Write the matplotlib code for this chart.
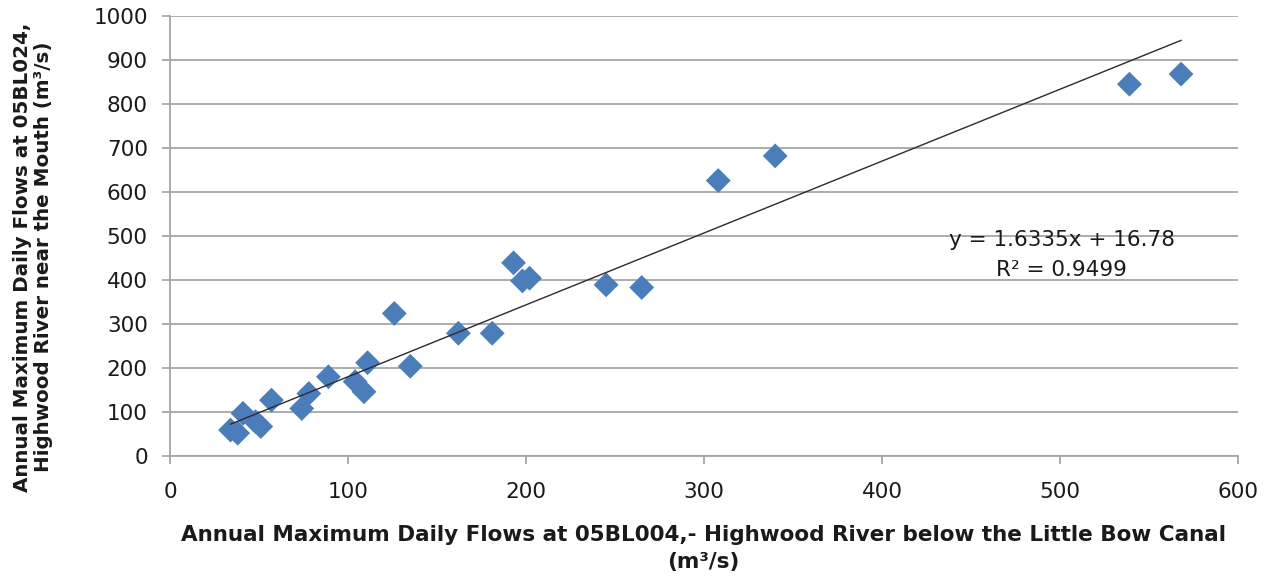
import matplotlib
matplotlib.use("Agg")
import matplotlib.pyplot as plt
import numpy as np

# Data
x_flow_05BL004 = [34, 38, 41, 48, 51, 57, 74, 78, 89, 104, 109, 111, 135,
                  126, 162, 181, 193, 198, 202, 245, 265, 308, 340, 539, 568]
y_flow_05BL024 = [59, 52, 97, 78, 67, 127, 108, 142, 180, 169, 146, 212, 204,
                  324, 279, 279, 439, 398, 404, 389, 383, 626, 682, 845, 868]
trend_slope = 1.6335
trend_intercept = 16.78
r_squared = 0.9499
x_ticks = [0, 100, 200, 300, 400, 500, 600]
y_ticks = [0, 100, 200, 300, 400, 500, 600, 700, 800, 900, 1000]

plt.rcParams['font.family'] = ['DejaVu Sans']

fig = plt.figure(figsize=(12.73, 5.82), dpi=100)
ax = fig.add_axes([170/1273, 1-456/582, (1238-170)/1273, (456-16)/582])

grid_c = '#a6a6a6'
text_c = '#1a1a1a'
ax.set_xlim(0, 600)
ax.set_ylim(0, 1000)
ax.set_xticks(x_ticks)
ax.set_yticks(y_ticks)
ax.yaxis.grid(True, color=grid_c, linewidth=1.3)
ax.set_axisbelow(True)
for s in ['top', 'right']:
    ax.spines[s].set_visible(False)
for s in ['left', 'bottom']:
    ax.spines[s].set_color(grid_c)
    ax.spines[s].set_linewidth(1.3)
ax.tick_params(axis='both', colors=grid_c, length=6, width=1.3, labelsize=15.5,
               labelcolor=text_c)
ax.tick_params(axis='x', pad=13)
ax.tick_params(axis='y', pad=10)

ax.scatter(x_flow_05BL004, y_flow_05BL024, marker='D', s=160, color='#4a7dba',
           edgecolors='none', zorder=3, clip_on=False)

xt = np.array([min(x_flow_05BL004), max(x_flow_05BL004)])
ax.plot(xt, trend_slope * xt + trend_intercept, color='#2b2b2b', linewidth=1.0, zorder=4)

ax.text(501, 491, f"y = {trend_slope}x + {trend_intercept}", fontsize=15.5,
        ha='center', va='center', color=text_c)
ax.text(501, 423, f"R² = {r_squared}", fontsize=15.5,
        ha='center', va='center', color=text_c)

ax.set_xlabel("Annual Maximum Daily Flows at 05BL004,- Highwood River below the Little Bow Canal\n(m³/s)",
              fontsize=15.5, fontweight='bold', linespacing=1.4, va='center', color=text_c)
ax.xaxis.set_label_coords(0.4995, -0.21)
ax.set_ylabel("Annual Maximum Daily Flows at 05BL024,\nHighwood River near the Mouth (m³/s)",
              fontsize=14.3, fontweight='bold', linespacing=1.15, va='center', color=text_c)
ax.yaxis.set_label_coords(-0.128, 0.452)

fig.savefig("out.png", dpi=100)
